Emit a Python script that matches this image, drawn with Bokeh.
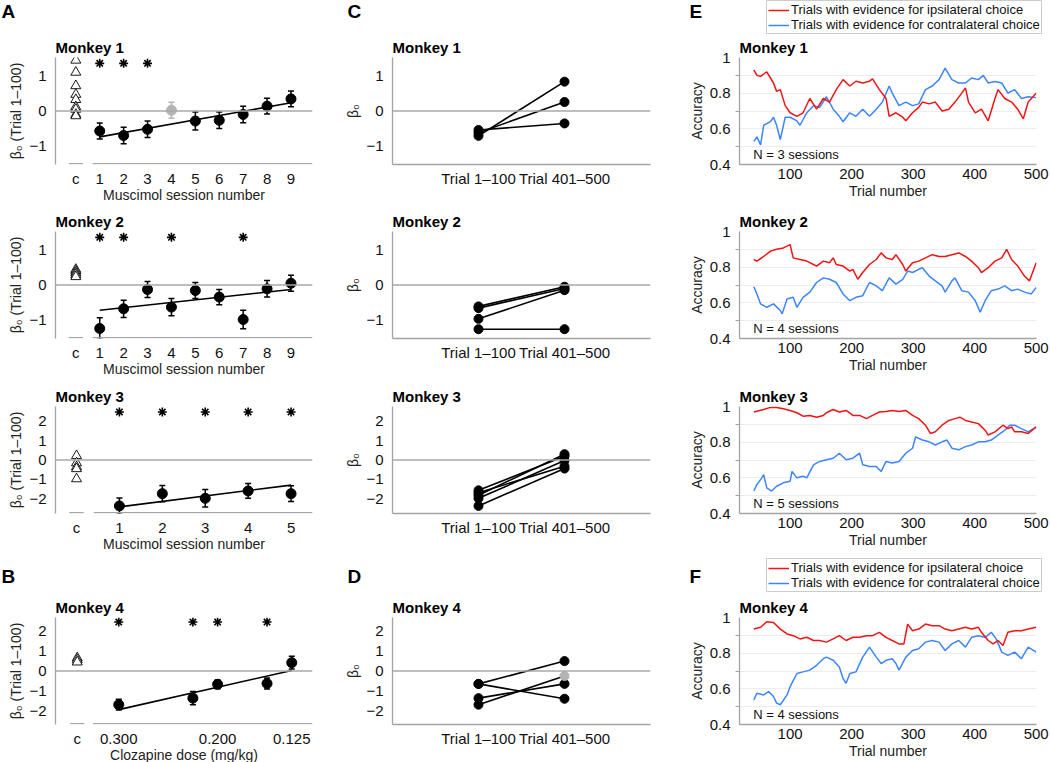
from bokeh.plotting import figure
from bokeh.layouts import row, column
from bokeh.models import (Range1d, FixedTicker, Span, Whisker, TeeHead, ColumnDataSource,
                          Label, Legend, LegendItem)
from bokeh.embed import file_html
from bokeh.resources import INLINE

FONT = "Liberation Sans"
AX_GRAY = "#a3a3a3"
ZERO_GRAY = "#a8a8a8"
RED = "#f01414"
BLUE = "#3d85ff"
PT_GRAY = "#b4b4b4"

# ---------------- Panel A / B data ----------------
m1_sessions = [1, 2, 3, 4, 5, 6, 7, 8, 9]
m1_beta = [-0.58, -0.71, -0.53, 0.02, -0.29, -0.27, -0.10, 0.14, 0.35]
m1_err = [0.23, 0.24, 0.24, 0.23, 0.26, 0.24, 0.24, 0.23, 0.23]
m1_excluded = [4]
m1_ctrl = [1.47, 1.12, 0.73, 0.48, 0.33, 0.12, 0.05, -0.10, -0.14]
m1_fit = [-0.75, 0.24]
m1_sig = [1, 2, 3]

m2_sessions = [1, 2, 3, 4, 5, 6, 7, 8, 9]
m2_beta = [-1.26, -0.69, -0.13, -0.64, -0.16, -0.35, -1.00, -0.11, 0.05]
m2_err = [0.31, 0.25, 0.23, 0.25, 0.23, 0.22, 0.27, 0.24, 0.23]
m2_excluded = []
m2_ctrl = [0.45, 0.40, 0.35, 0.30, 0.24]
m2_fit = [-0.73, -0.13]
m2_sig = [1, 2, 4, 7]

m3_sessions = [1, 2, 3, 4, 5]
m3_beta = [-2.36, -1.73, -1.97, -1.59, -1.73]
m3_err = [0.41, 0.42, 0.45, 0.38, 0.40]
m3_excluded = []
m3_ctrl = [0.22, -0.15, -0.35, -0.45, -0.97]
m3_fit = [-2.41, -1.29]
m3_sig = [1, 2, 3, 4, 5]

m4_dose = [0.300, 0.225, 0.200, 0.150, 0.125]
m4_beta = [-1.70, -1.37, -0.67, -0.63, 0.42]
m4_err = [0.27, 0.33, 0.22, 0.28, 0.32]
m4_excluded = []
m4_ctrl = [0.66, 0.56, 0.45]
m4_fit = [-1.95, 0.03]
m4_sig = [0.300, 0.225, 0.200, 0.150]
m4_tick_labels = {0.300: "0.300", 0.200: "0.200", 0.125: "0.125"}

# ---------------- Panel C / D data ----------------
c_categories = ["Trial 1\u2013100", "Trial 401\u2013500"]
c1_first = [-0.55, -0.63, -0.72]
c1_last = [-0.36, 0.26, 0.85]
c2_first = [-0.62, -0.67, -0.98, -1.28]
c2_last = [-0.05, -0.10, -0.15, -1.28]
c3_first = [-1.56, -1.68, -1.81, -1.97, -2.36]
c3_last = [0.19, -0.32, 0.30, -0.03, -0.44]
c4_first = [-0.65, -0.65, -1.37, -1.70]
c4_last = [0.50, -1.40, -0.65, -0.25]
c4_gray_last = [3]

# ---------------- Panel E / F data ----------------
e1_red_t = [41, 46, 52, 62, 73, 78, 84, 92, 100, 111, 121, 132, 143, 154, 164, 175, 186, 197, 207, 218,
            229, 234, 245, 256, 261, 272, 283, 288, 299, 309, 315, 326, 336, 347, 358, 368, 379, 385, 390, 401,
            411, 422, 433, 438, 449, 460, 470, 479, 487, 500]
e1_red_v = [.93, .90, .894, .92, .857, .81, .82, .73, .69, .67, .69, .77, .71, .77, .75, .82, .876, .84, .867, .857,
            .867, .88, .82, .77, .67, .69, .665, .645, .69, .72, .75, .74, .75, .70, .71, .75, .80, .83, .75, .69,
            .71, .645, .77, .82, .77, .75, .71, .656, .75, .80]
e1_blue_t = [41, 46, 52, 57, 68, 73, 78, 84, 92, 100, 111, 116, 127, 138, 148, 159, 170, 180, 186, 197,
             207, 218, 229, 240, 250, 261, 266, 277, 288, 299, 309, 320, 331, 342, 352, 363, 374, 385, 395, 406,
             414, 422, 433, 444, 454, 465, 476, 487, 500]
e1_blue_v = [.53, .555, .51, .62, .64, .665, .62, .54, .665, .665, .645, .62, .69, .73, .72, .78, .71, .67, .64, .69,
             .67, .71, .67, .71, .75, .84, .80, .73, .75, .73, .74, .82, .84, .876, .94, .876, .857, .857, .885, .876,
             .90, .857, .866, .857, .80, .82, .77, .78, .775]

e2_red_t = [41, 46, 57, 68, 78, 89, 100, 105, 116, 127, 138, 143, 154, 164, 170, 175, 186, 197, 202, 210,
            218, 229, 240, 248, 256, 266, 272, 283, 288, 299, 309, 320, 331, 342, 352, 363, 374, 385, 395, 406,
            411, 422, 433, 444, 452, 460, 470, 481, 489, 500]
e2_red_v = [.843, .834, .86, .89, .90, .908, .926, .852, .843, .834, .815, .806, .834, .825, .852, .815, .806, .778, .788, .732,
            .77, .815, .843, .88, .852, .843, .87, .815, .778, .825, .834, .852, .87, .86, .86, .87, .88, .86, .834, .797,
            .77, .797, .834, .852, .90, .843, .806, .75, .723, .825]
e2_blue_t = [41, 46, 52, 62, 73, 84, 87, 95, 105, 111, 121, 132, 143, 154, 164, 175, 186, 197, 207, 218,
             229, 240, 250, 261, 272, 283, 291, 299, 309, 315, 326, 336, 347, 352, 363, 368, 379, 390, 401, 409,
             417, 427, 438, 449, 460, 470, 481, 492, 500]
e2_blue_v = [.69, .65, .594, .575, .594, .557, .538, .622, .631, .575, .631, .66, .714, .74, .732, .714, .65, .612, .631, .64,
             .714, .695, .668, .74, .705, .732, .778, .77, .788, .797, .75, .723, .695, .66, .723, .74, .668, .66, .612, .548,
             .612, .668, .677, .695, .668, .677, .66, .65, .686]

e3_red_t = [41, 57, 68, 78, 89, 100, 111, 121, 132, 143, 154, 159, 170, 180, 191, 202, 213, 224, 234, 245,
            256, 266, 277, 288, 299, 309, 320, 328, 336, 347, 358, 368, 376, 385, 395, 406, 417, 422, 433, 446,
            454, 460, 465, 476, 487, 500]
e3_red_v = [.969, .983, .995, .995, .987, .978, .965, .946, .95, .94, .95, .965, .983, .969, .978, .95, .95, .932, .95, .969,
            .972, .978, .972, .978, .95, .932, .895, .849, .858, .895, .922, .932, .94, .922, .913, .904, .867, .84, .858, .895,
            .876, .885, .858, .858, .849, .885]
e3_blue_t = [41, 46, 54, 57, 62, 70, 78, 89, 100, 103, 111, 121, 127, 138, 148, 159, 170, 180, 191, 202,
             213, 218, 229, 240, 248, 256, 266, 277, 288, 299, 304, 315, 326, 336, 347, 355, 363, 374, 385, 395,
             406, 417, 427, 438, 449, 457, 465, 476, 487, 500]
e3_blue_v = [.526, .563, .60, .618, .544, .526, .553, .572, .581, .636, .60, .609, .60, .673, .692, .701, .71, .738, .701, .71,
             .738, .673, .664, .664, .636, .692, .683, .692, .738, .766, .83, .812, .802, .784, .802, .812, .766, .757, .775, .784,
             .802, .802, .812, .84, .867, .895, .895, .876, .858, .885]

e4_red_t = [41, 52, 62, 73, 84, 95, 105, 116, 127, 138, 148, 159, 170, 180, 191, 202, 213, 224, 234, 245,
            256, 266, 277, 285, 291, 299, 309, 320, 331, 342, 352, 363, 374, 385, 395, 406, 411, 422, 430, 438,
            446, 454, 465, 476, 487, 500]
e4_red_v = [.935, .945, .976, .972, .935, .908, .898, .88, .889, .871, .871, .862, .88, .898, .871, .889, .889, .898, .898, .917,
            .889, .871, .852, .852, .963, .926, .935, .963, .954, .954, .935, .926, .935, .945, .935, .945, .917, .871, .852, .871,
            .843, .917, .926, .926, .935, .945]
e4_blue_t = [41, 46, 57, 65, 73, 78, 84, 95, 100, 111, 121, 132, 143, 154, 159, 170, 180, 186, 191, 197,
             207, 218, 229, 240, 248, 256, 266, 272, 277, 288, 299, 309, 320, 331, 342, 352, 363, 374, 385, 395,
             406, 417, 427, 435, 444, 454, 465, 476, 487, 500]
e4_blue_v = [.538, .575, .566, .585, .557, .52, .511, .566, .612, .686, .695, .705, .732, .769, .778, .76, .723, .658, .631, .686,
             .695, .778, .834, .778, .742, .76, .769, .742, .705, .778, .815, .825, .862, .871, .862, .815, .852, .871, .834, .889,
             .898, .889, .917, .88, .806, .788, .806, .769, .834, .806]

e_sessions = [3, 4, 5, 4]
legend_labels = ["Trials with evidence for ipsilateral choice",
                 "Trials with evidence for contralateral choice"]
monkeys = ["Monkey 1", "Monkey 2", "Monkey 3", "Monkey 4"]

# ---------------- Layout geometry (pixels) ----------------
FRAME_H = 107
ROW_BT = [22, 26, 23, 25]
ROW_BB = [41, 45, 45, 38]
COL_FW = [257, 258, 297]
COL_BL = [55, 52, 58]
COL_BR = [28, 31, 13]
HEADER_H = 34
TOTAL_W = sum(COL_FW) + sum(COL_BL) + sum(COL_BR)


def base_fig(ci, ri, xr, yr, title):
    p = figure(frame_width=COL_FW[ci], frame_height=FRAME_H, x_range=xr, y_range=yr,
               min_border_left=COL_BL[ci], min_border_right=COL_BR[ci],
               min_border_top=ROW_BT[ri], min_border_bottom=ROW_BB[ri],
               output_backend="svg", toolbar_location=None, title=title)
    p.outline_line_color = None
    p.background_fill_color = "white"
    p.border_fill_color = "white"
    p.xgrid.visible = False
    p.ygrid.visible = False
    p.title.text_font = FONT
    p.title.text_font_size = "15px"
    p.title.text_font_style = "bold"
    p.title.text_color = "black"
    p.title.align = "left"
    p.title.offset = 0
    p.title.standoff = 4
    for ax in p.axis:
        ax.axis_line_color = AX_GRAY
        ax.axis_line_width = 1.3
        ax.major_tick_line_color = None
        ax.minor_tick_line_color = None
        ax.major_tick_out = 0
        ax.major_tick_in = 0
        ax.minor_tick_out = 0
        ax.minor_tick_in = 0
        ax.major_label_text_font = FONT
        ax.major_label_text_font_size = "15px"
        ax.major_label_text_color = "#111111"
        ax.axis_label_text_font = FONT
        ax.axis_label_text_font_size = "14px"
        ax.axis_label_text_font_style = "normal"
        ax.axis_label_text_color = "#222222"
        ax.axis_label_standoff = 2
    p.yaxis.major_label_standoff = 9
    p.xaxis.major_label_standoff = 5
    p.xaxis.axis_label_standoff = -3
    return p


def panel_a(ri, xs, beta, err, excluded, ctrl, fit, sig, ylim, yticks, star_y, xr, ticks, overrides,
            c_pos, c_half, main_start, xlabel):
    p = base_fig(0, ri, xr, Range1d(-ylim, ylim), monkeys[ri])
    p.xaxis.ticker = FixedTicker(ticks=ticks)
    p.xaxis.major_label_overrides = overrides
    p.xaxis.axis_label = xlabel
    p.xaxis.axis_line_color = None
    p.yaxis.ticker = FixedTicker(ticks=yticks)
    p.yaxis.axis_label = "\u03b2\u2080 (Trial 1\u2013100)"
    p.add_layout(Span(location=0, dimension="width", line_color=ZERO_GRAY, line_width=1.3))
    ybase = -ylim + 0.015 * ylim
    p.segment(x0=[c_pos - c_half, main_start], x1=[c_pos + c_half, xr.end], y0=[ybase, ybase], y1=[ybase, ybase],
              line_color=AX_GRAY, line_width=1.3)
    p.scatter([c_pos] * len(ctrl), ctrl, marker="triangle", size=10, fill_color="white",
              line_color="black", line_width=0.9)
    used = [x for x in xs if x not in excluded]
    p.line([used[0], used[-1]], fit, line_color="black", line_width=1.6)
    for color, keep in (("black", lambda x: x not in excluded), (PT_GRAY, lambda x: x in excluded)):
        sx = [x for x in xs if keep(x)]
        if not sx:
            continue
        sb = [b for x, b in zip(xs, beta) if keep(x)]
        se = [e for x, e in zip(xs, err) if keep(x)]
        src = ColumnDataSource(dict(x=sx, y=sb, lo=[b - e for b, e in zip(sb, se)],
                                    hi=[b + e for b, e in zip(sb, se)]))
        p.add_layout(Whisker(base="x", upper="hi", lower="lo", source=src, line_color=color, line_width=1.5,
                             upper_head=TeeHead(size=6, line_color=color, line_width=1.5),
                             lower_head=TeeHead(size=6, line_color=color, line_width=1.5)))
        p.scatter("x", "y", source=src, size=10, fill_color=color, line_color=color)
    p.scatter(sig, [star_y] * len(sig), marker="asterisk", size=9, line_color="black", line_width=1.6)
    return p


def panel_c(ri, first, last, ylim, yticks, gray_last=()):
    p = base_fig(1, ri, Range1d(0, 3), Range1d(-ylim, ylim), monkeys[ri])
    p.xaxis.ticker = FixedTicker(ticks=[1, 2])
    p.xaxis.major_label_overrides = {1: c_categories[0], 2: c_categories[1]}
    p.yaxis.ticker = FixedTicker(ticks=yticks)
    p.yaxis.axis_label = "\u03b2\u2080"
    p.add_layout(Span(location=0, dimension="width", line_color=ZERO_GRAY, line_width=1.3))
    p.multi_line([[1, 2] for _ in first], [[a, b] for a, b in zip(first, last)], line_color="black", line_width=1.6)
    p.scatter([1] * len(first), first, size=9, color="black")
    lcol = [PT_GRAY if i in gray_last else "black" for i in range(len(last))]
    p.scatter([2] * len(last), last, size=9, color=lcol)
    return p


def panel_e(ri, rt, rv, bt, bv, n):
    p = base_fig(2, ri, Range1d(17.7, 500.5), Range1d(0.4, 1.0), monkeys[ri])
    p.xaxis.ticker = FixedTicker(ticks=[100, 200, 300, 400, 500])
    p.xaxis.axis_label = "Trial number"
    p.xaxis.major_label_standoff = 4
    p.xaxis.axis_label_standoff = 1
    p.yaxis.ticker = FixedTicker(ticks=[0.4, 0.6, 0.8, 1.0], minor_ticks=[0.5, 0.7, 0.9])
    p.yaxis.major_label_overrides = {1: "1"}
    p.yaxis.minor_tick_line_color = AX_GRAY
    p.yaxis.minor_tick_out = 4
    p.yaxis.axis_label = "Accuracy"
    p.yaxis.major_label_standoff = 5
    p.ygrid.visible = True
    p.ygrid.ticker = FixedTicker(ticks=[0.5, 0.6, 0.7, 0.8, 0.9])
    p.ygrid.grid_line_color = "#ededed"
    p.line(bt, bv, line_color=BLUE, line_width=1.5)
    p.line(rt, rv, line_color=RED, line_width=1.5)
    p.add_layout(Label(x=40, y=0.455, text=f"N = {n} sessions", text_font=FONT, text_font_size="13px",
                       text_baseline="middle", text_color="#111111"))
    return p


def header(letters, letter_y, legend_x):
    h = figure(frame_width=TOTAL_W, frame_height=HEADER_H, x_range=Range1d(0, TOTAL_W),
               y_range=Range1d(0, HEADER_H), x_axis_type=None, y_axis_type=None,
               min_border_left=0, min_border_right=0, min_border_top=0, min_border_bottom=0,
               output_backend="svg", toolbar_location=None)
    h.outline_line_color = None
    h.xgrid.visible = False
    h.ygrid.visible = False
    for txt, lx in letters:
        h.add_layout(Label(x=lx, y=letter_y, text=txt, text_font=FONT, text_font_size="19px",
                           text_font_style="bold", text_color="black", text_baseline="middle"))
    # legend swatches (kept outside the visible range; only their legend entries show)
    rr = h.line(x=[-20, -10], y=[-20, -20], line_color=RED, line_width=1.5)
    rb = h.line(x=[-20, -10], y=[-20, -20], line_color=BLUE, line_width=1.5)
    leg = Legend(items=[LegendItem(label=legend_labels[0], renderers=[rr]),
                        LegendItem(label=legend_labels[1], renderers=[rb])],
                 location=(legend_x, 0))
    leg.label_text_font = FONT
    leg.label_text_font_size = "13px"
    leg.label_text_color = "#111111"
    leg.border_line_color = "#9a9a9a"
    leg.border_line_width = 1
    leg.background_fill_color = "white"
    leg.background_fill_alpha = 1.0
    leg.padding = 1
    leg.spacing = 0
    leg.margin = 0
    leg.glyph_width = 21
    leg.glyph_height = 12
    leg.label_height = 12
    leg.label_standoff = 2
    h.add_layout(leg)
    return h


sess_ticks9 = [0] + list(range(1, 10))
ov9 = {0: "c"}
a1 = panel_a(0, m1_sessions, m1_beta, m1_err, m1_excluded, m1_ctrl, m1_fit, m1_sig, 1.55, [-1, 0, 1], 1.38,
             Range1d(-0.85, 9.9), sess_ticks9, ov9, 0, 0.3, 0.7, "Muscimol session number")
a2 = panel_a(1, m2_sessions, m2_beta, m2_err, m2_excluded, m2_ctrl, m2_fit, m2_sig, 1.55, [-1, 0, 1], 1.38,
             Range1d(-0.85, 9.9), sess_ticks9, ov9, 0, 0.3, 0.7, "Muscimol session number")
a3 = panel_a(2, m3_sessions, m3_beta, m3_err, m3_excluded, m3_ctrl, m3_fit, m3_sig, 2.75, [-2, -1, 0, 1, 2], 2.47,
             Range1d(-0.49, 5.5), [0, 1, 2, 3, 4, 5], {0: "c"}, 0, 0.17, 0.4, "Muscimol session number")
ov4 = {0.342: "c"}
ov4.update(m4_tick_labels)
a4 = panel_a(3, m4_dose, m4_beta, m4_err, m4_excluded, m4_ctrl, m4_fit, m4_sig, 2.7, [-2, -1, 0, 1, 2], 2.47,
             Range1d(0.364, 0.104), [0.342] + list(m4_tick_labels.keys()), ov4, 0.342, 0.007, 0.326,
             "Clozapine dose (mg/kg)")

c1 = panel_c(0, c1_first, c1_last, 1.55, [-1, 0, 1])
c2 = panel_c(1, c2_first, c2_last, 1.55, [-1, 0, 1])
c3 = panel_c(2, c3_first, c3_last, 2.75, [-2, -1, 0, 1, 2])
c4 = panel_c(3, c4_first, c4_last, 2.7, [-2, -1, 0, 1, 2], gray_last=c4_gray_last)

e1 = panel_e(0, e1_red_t, e1_red_v, e1_blue_t, e1_blue_v, e_sessions[0])
e2 = panel_e(1, e2_red_t, e2_red_v, e2_blue_t, e2_blue_v, e_sessions[1])
e3 = panel_e(2, e3_red_t, e3_red_v, e3_blue_t, e3_blue_v, e_sessions[2])
e4 = panel_e(3, e4_red_t, e4_red_v, e4_blue_t, e4_blue_v, e_sessions[3])

h1 = header([("A", 1), ("C", 347), ("E", 689)], 23, 766)
h4 = header([("B", 1), ("D", 347), ("F", 689)], 16, 766)

layout = column(h1,
                row(column(a1, a2, a3), column(c1, c2, c3), column(e1, e2, e3)),
                h4,
                row(a4, c4, e4))
open("out.html", "w").write(file_html(layout, INLINE))
